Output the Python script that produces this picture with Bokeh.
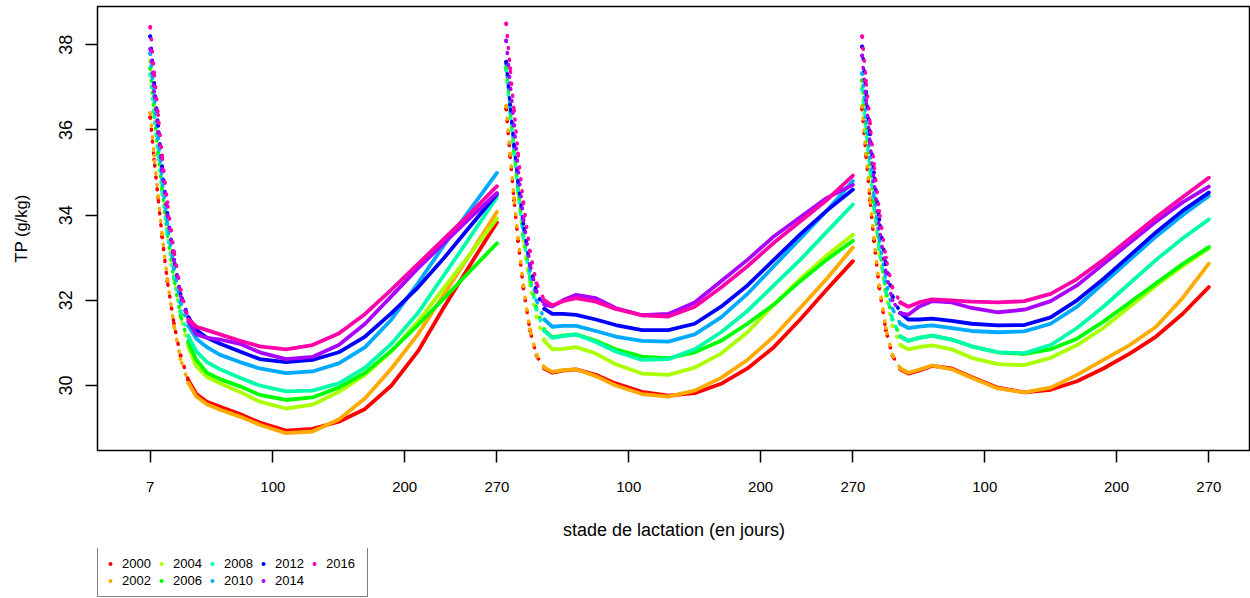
from bokeh.plotting import figure
from bokeh.layouts import column
from bokeh.models import FixedTicker, Legend, LegendItem, ColumnDataSource, Range1d
from bokeh.embed import file_html
from bokeh.resources import INLINE

# ---------------- data ----------------
DAYS = [7, 10, 13, 16, 20, 25, 30, 36, 42, 50, 60, 75, 90, 110, 130, 150, 170, 190, 210, 230, 250, 270]
YEARS = ["2000", "2002", "2004", "2006", "2008", "2010", "2012", "2014", "2016"]
COLORS = ["#FF0000", "#FFAA00", "#AAFF00", "#00FF00", "#00FFAA", "#00AAFF", "#0000FF", "#AA00FF", "#FF00AA"]
LACT_OFFSET = [0, 270, 540]
X_TICKS = [7, 100, 200, 270, 370, 470, 540, 640, 740, 810]
X_TICK_LABELS = ["7", "100", "200", "270", "100", "200", "270", "100", "200", "270"]
Y_TICKS = [30, 32, 34, 36, 38]

# lactation 1
l1_2000 = [36.3, 35.3, 34.4, 33.5, 32.45, 31.45, 30.7, 30.12, 29.8, 29.62, 29.5, 29.33, 29.13, 28.94, 28.98, 29.15, 29.45, 30.0, 30.8, 31.85, 32.85, 33.83]
l1_2002 = [36.4, 35.4, 34.45, 33.55, 32.5, 31.4, 30.62, 30.06, 29.74, 29.56, 29.43, 29.27, 29.08, 28.88, 28.92, 29.2, 29.7, 30.4, 31.2, 32.15, 33.1, 34.08]
l1_2004 = [37.62, 36.6, 35.6, 34.7, 33.6, 32.5, 31.6, 30.9, 30.45, 30.2, 30.05, 29.85, 29.62, 29.46, 29.55, 29.85, 30.25, 30.8, 31.5, 32.3, 33.1, 33.92]
l1_2006 = [37.45, 36.4, 35.45, 34.6, 33.55, 32.5, 31.65, 31.0, 30.6, 30.3, 30.15, 29.98, 29.78, 29.66, 29.72, 29.95, 30.3, 30.82, 31.42, 32.05, 32.7, 33.34]
l1_2008 = [37.3, 36.3, 35.4, 34.55, 33.55, 32.55, 31.75, 31.15, 30.8, 30.55, 30.38, 30.18, 30.0, 29.86, 29.88, 30.05, 30.42, 30.98, 31.7, 32.6, 33.5, 34.42]
l1_2010 = [37.8, 36.8, 35.8, 34.85, 33.8, 32.75, 31.95, 31.4, 31.1, 30.9, 30.72, 30.55, 30.4, 30.29, 30.33, 30.52, 30.9, 31.55, 32.4, 33.3, 34.15, 34.99]
l1_2012 = [38.2, 37.1, 36.1, 35.15, 34.05, 32.95, 32.15, 31.6, 31.3, 31.12, 30.98, 30.8, 30.62, 30.55, 30.6, 30.78, 31.15, 31.7, 32.3, 33.0, 33.75, 34.49]
l1_2014 = [37.9, 36.9, 35.95, 35.05, 34.0, 32.95, 32.1, 31.5, 31.2, 31.12, 31.08, 30.98, 30.78, 30.62, 30.67, 30.95, 31.45, 32.1, 32.75, 33.35, 33.95, 34.52]
l1_2016 = [38.42, 37.35, 36.35, 35.4, 34.3, 33.15, 32.25, 31.55, 31.38, 31.3, 31.2, 31.05, 30.92, 30.85, 30.95, 31.22, 31.68, 32.25, 32.85, 33.45, 34.05, 34.68]

# lactation 2
l2_2000 = [36.5, 35.4, 34.35, 33.4, 32.3, 31.3, 30.7, 30.4, 30.3, 30.35, 30.38, 30.25, 30.05, 29.85, 29.76, 29.82, 30.04, 30.4, 30.9, 31.55, 32.25, 32.92]
l2_2002 = [36.56, 35.45, 34.4, 33.45, 32.35, 31.32, 30.72, 30.42, 30.32, 30.36, 30.38, 30.22, 30.0, 29.8, 29.74, 29.88, 30.18, 30.6, 31.15, 31.82, 32.5, 33.24]
l2_2004 = [37.5, 36.45, 35.45, 34.5, 33.4, 32.35, 31.6, 31.05, 30.85, 30.86, 30.9, 30.75, 30.5, 30.28, 30.25, 30.42, 30.75, 31.25, 31.9, 32.5, 33.05, 33.54]
l2_2006 = [37.45, 36.45, 35.5, 34.6, 33.55, 32.55, 31.8, 31.3, 31.13, 31.17, 31.2, 31.05, 30.85, 30.68, 30.64, 30.78, 31.05, 31.45, 31.9, 32.45, 32.95, 33.4]
l2_2008 = [37.4, 36.4, 35.45, 34.55, 33.5, 32.5, 31.78, 31.28, 31.12, 31.16, 31.2, 31.02, 30.8, 30.6, 30.62, 30.85, 31.25, 31.75, 32.35, 32.95, 33.6, 34.25]
l2_2010 = [37.55, 36.55, 35.6, 34.7, 33.7, 32.7, 32.0, 31.55, 31.38, 31.4, 31.4, 31.28, 31.15, 31.05, 31.03, 31.2, 31.6, 32.15, 32.8, 33.45, 34.1, 34.8]
l2_2012 = [37.6, 36.6, 35.65, 34.8, 33.8, 32.85, 32.2, 31.8, 31.68, 31.68, 31.66, 31.55, 31.42, 31.3, 31.3, 31.45, 31.85, 32.35, 32.95, 33.55, 34.1, 34.6]
l2_2014 = [38.1, 37.1, 36.1, 35.1, 33.95, 32.85, 32.2, 31.9, 31.86, 32.0, 32.13, 32.05, 31.82, 31.65, 31.68, 31.95, 32.45, 32.95, 33.5, 33.95, 34.4, 34.71]
l2_2016 = [38.5, 37.45, 36.45, 35.45, 34.3, 33.15, 32.4, 32.0, 31.88, 31.98, 32.05, 31.97, 31.8, 31.65, 31.62, 31.85, 32.3, 32.8, 33.35, 33.85, 34.35, 34.93]

# lactation 3
l3_2000 = [36.5, 35.4, 34.35, 33.4, 32.3, 31.3, 30.7, 30.38, 30.28, 30.35, 30.46, 30.4, 30.2, 29.95, 29.84, 29.9, 30.1, 30.4, 30.75, 31.15, 31.68, 32.31]
l3_2002 = [36.56, 35.45, 34.4, 33.45, 32.35, 31.35, 30.72, 30.4, 30.3, 30.37, 30.47, 30.38, 30.18, 29.93, 29.84, 29.95, 30.25, 30.6, 30.95, 31.38, 32.05, 32.86]
l3_2004 = [37.0, 36.0, 35.05, 34.15, 33.1, 32.1, 31.4, 30.95, 30.85, 30.9, 30.94, 30.85, 30.65, 30.5, 30.48, 30.65, 30.95, 31.35, 31.85, 32.35, 32.8, 33.22]
l3_2006 = [37.17, 36.15, 35.2, 34.3, 33.25, 32.25, 31.55, 31.15, 31.05, 31.12, 31.17, 31.08, 30.92, 30.78, 30.74, 30.85, 31.1, 31.5, 31.95, 32.4, 32.85, 33.25]
l3_2008 = [36.95, 35.95, 35.05, 34.2, 33.2, 32.2, 31.55, 31.15, 31.05, 31.12, 31.17, 31.08, 30.92, 30.78, 30.76, 30.95, 31.35, 31.85, 32.4, 32.95, 33.45, 33.9]
l3_2010 = [37.33, 36.3, 35.35, 34.45, 33.45, 32.45, 31.8, 31.45, 31.35, 31.38, 31.41, 31.35, 31.28, 31.25, 31.27, 31.45, 31.85, 32.4, 32.95, 33.5, 34.0, 34.45]
l3_2012 = [37.96, 36.9, 35.9, 35.0, 33.9, 32.85, 32.1, 31.7, 31.55, 31.55, 31.57, 31.52, 31.45, 31.41, 31.42, 31.6, 32.0, 32.5, 33.05, 33.6, 34.1, 34.53]
l3_2014 = [37.75, 36.7, 35.7, 34.8, 33.7, 32.65, 32.0, 31.7, 31.66, 31.85, 31.98, 31.95, 31.82, 31.72, 31.78, 31.98, 32.35, 32.85, 33.35, 33.85, 34.3, 34.67]
l3_2016 = [38.2, 37.15, 36.15, 35.2, 34.1, 33.0, 32.3, 31.95, 31.85, 31.95, 32.02, 32.0, 31.97, 31.95, 31.98, 32.15, 32.5, 32.95, 33.45, 33.95, 34.42, 34.88]

CURVES = {
    "2000": (l1_2000, l2_2000, l3_2000),
    "2002": (l1_2002, l2_2002, l3_2002),
    "2004": (l1_2004, l2_2004, l3_2004),
    "2006": (l1_2006, l2_2006, l3_2006),
    "2008": (l1_2008, l2_2008, l3_2008),
    "2010": (l1_2010, l2_2010, l3_2010),
    "2012": (l1_2012, l2_2012, l3_2012),
    "2014": (l1_2014, l2_2014, l3_2014),
    "2016": (l1_2016, l2_2016, l3_2016),
}

SPLIT = 7  # index of day 36: early (steep) part drawn dotted before it

FONT = "Liberation Sans"

# ---------------- main figure ----------------
p = figure(width=1250, height=548, output_backend="svg", toolbar_location=None,
           x_range=Range1d(-33.0, 841.6), y_range=Range1d(28.474, 38.899),
           min_border_left=97, min_border_right=0, min_border_top=6, min_border_bottom=98)

p.xgrid.visible = False
p.ygrid.visible = False
p.outline_line_color = "black"
p.outline_line_width = 1.5
p.background_fill_color = "white"
p.border_fill_color = "white"

for year, color in zip(YEARS, COLORS):
    ex, ey = [], []
    for off, vals in zip(LACT_OFFSET, CURVES[year]):
        xs = [off + d for d in DAYS]
        # steep early part: dotted
        p.line(xs[:SPLIT + 1], vals[:SPLIT + 1], line_color=color, line_width=3.5,
               line_dash="1 11", line_cap="round")
        # smooth part: solid
        p.line(xs[SPLIT:], vals[SPLIT:], line_color=color, line_width=3.8,
               line_join="round", line_cap="round")
        ex += xs[:SPLIT + 1]
        ey += vals[:SPLIT + 1]
    src = ColumnDataSource(dict(x=ex, y=ey))
    p.scatter("x", "y", source=src, size=4, fill_color=color, line_color=None)

# axes
p.xaxis.ticker = FixedTicker(ticks=X_TICKS)
p.xaxis.major_label_overrides = {t: l for t, l in zip(X_TICKS, X_TICK_LABELS)}
p.yaxis.ticker = FixedTicker(ticks=Y_TICKS)
for ax in (p.xaxis, p.yaxis):
    ax.axis_line_color = None
    ax.major_tick_out = 12
    ax.major_tick_in = 0
    ax.minor_tick_out = 0
    ax.minor_tick_in = 0
    ax.major_tick_line_color = "black"
    ax.major_tick_line_width = 1.5
    ax.major_label_text_font = FONT
    ax.major_label_text_color = "black"
    ax.axis_label_text_font = FONT
    ax.axis_label_text_font_style = "normal"
    ax.axis_label_text_color = "black"

p.xaxis.major_label_text_font_size = "15px"
p.xaxis.major_label_standoff = 19
p.xaxis.axis_label = "stade de lactation (en jours)"
p.xaxis.axis_label_text_font_size = "18px"
p.xaxis.axis_label_standoff = 25

p.yaxis.major_label_text_font_size = "18px"
p.yaxis.major_label_orientation = "vertical"
p.yaxis.major_label_standoff = 13
p.yaxis.axis_label = "TP (g/kg)"
p.yaxis.axis_label_text_font_size = "16.5px"
p.yaxis.axis_label_standoff = 27

# ---------------- legend strip (below the plot) ----------------
lg = figure(width=1250, height=50, output_backend="svg", toolbar_location=None,
            x_axis_type=None, y_axis_type=None,
            x_range=Range1d(0, 1), y_range=Range1d(0, 1),
            min_border_left=0, min_border_right=0, min_border_top=0, min_border_bottom=0)
lg.outline_line_color = None
lg.background_fill_color = "white"
lg.border_fill_color = "white"

items = []
for year, color in zip(YEARS, COLORS):
    # proxy glyph placed outside the visible range; only its legend swatch is shown
    r = lg.scatter(x=[-5], y=[-5], size=6, fill_color=color, line_color=None)
    items.append(LegendItem(label=year, renderers=[r]))

legend = Legend(
    items=items, location=(0, 1), orientation="vertical", nrows=2,
    margin=0, padding=7, spacing=0,
    glyph_width=10, glyph_height=17, label_height=17, label_width=34, label_standoff=7,
    label_text_font=FONT, label_text_font_size="13px", label_text_color="black",
    border_line_color="black", border_line_width=1.5, background_fill_color="white",
    background_fill_alpha=1.0,
)
lg.add_layout(legend, "center")

layout = column(p, lg, spacing=0)
open("out.html", "w").write(file_html(layout, INLINE))
